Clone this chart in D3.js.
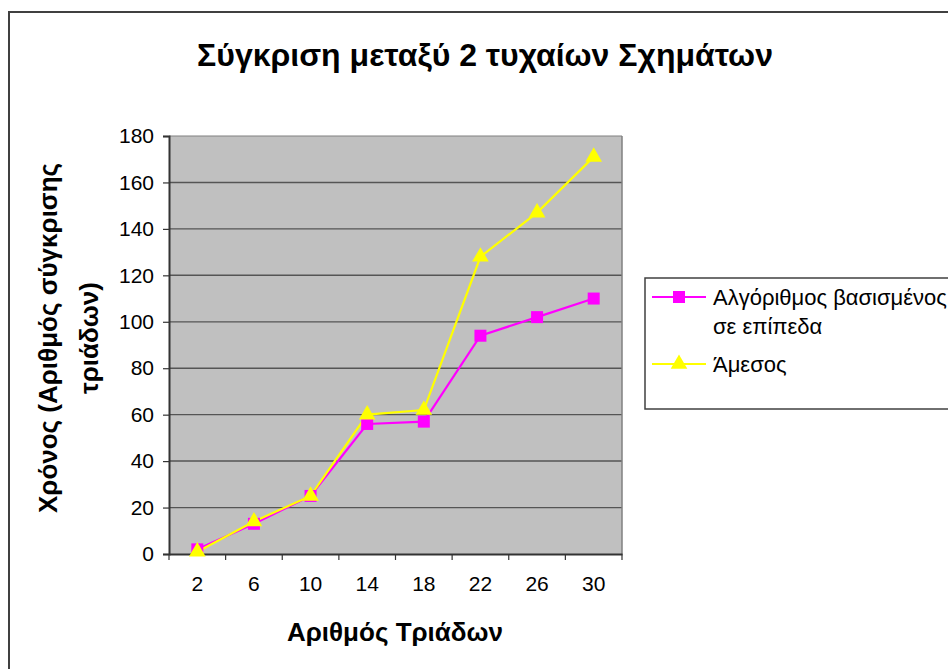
<!DOCTYPE html>
<html><head><meta charset="utf-8">
<script src="https://cdn.jsdelivr.net/npm/d3@7"></script>
<style>body{margin:0;background:#fff}svg{display:block}text{font-family:"Liberation Sans",Arial,sans-serif}</style>
</head><body><svg id="c" width="948" height="669"></svg>
<script>
const categories = ["2","6","10","14","18","22","26","30"];
const seriesNames = ["Αλγόριθμος βασισμένος σε επίπεδα","Άμεσος"];
const levelValues = [2,13,25,56,57,94,102,110];
const directValues = [1,14,25,60,62,128,147,171];
const yTicks = [0,20,40,60,80,100,120,140,160,180];
const colors = ["#ff00ff","#ffff00"];

const svg = d3.select("#c");
const L=169, R=622, T=136, B=554;
// outer frame
svg.append("path").attr("d","M9,669 V12 H948").attr("fill","none").attr("stroke","#404040").attr("stroke-width",2);

const x = d3.scaleBand().domain(categories).range([L,R]);
const y = d3.scaleLinear().domain([0,180]).range([B,T]);

svg.append("rect").attr("x",L).attr("y",T).attr("width",R-L).attr("height",B-T).attr("fill","#c0c0c0");
// gridlines
svg.append("g").selectAll("line").data(yTicks.slice(1)).join("line")
  .attr("x1",L).attr("x2",R).attr("y1",d=>y(d)).attr("y2",d=>y(d))
  .attr("stroke",d=>d===180?"#808080":"#555").attr("stroke-width",d=>d%40===0?1.5:1.2);
// right border
svg.append("line").attr("x1",R).attr("x2",R).attr("y1",T).attr("y2",B).attr("stroke","#808080").attr("stroke-width",1.5);

// axes
const yAxis = svg.append("g").attr("transform",`translate(${L},0)`)
  .call(d3.axisLeft(y).tickValues(yTicks).tickSize(6).tickPadding(9));
const xAxis = svg.append("g").attr("transform",`translate(0,${B})`)
  .call(d3.axisBottom(x).tickSize(0).tickPadding(22));
[yAxis,xAxis].forEach(a=>{a.select(".domain").attr("stroke","#333").attr("stroke-width",2);
  a.selectAll("text").attr("font-size",21).attr("fill","#000").attr("font-family","Liberation Sans, Arial, sans-serif");
  a.selectAll("line").attr("stroke","#333").attr("stroke-width",1.2);});
// x ticks at category boundaries
svg.append("g").selectAll("line").data(categories.concat(["end"])).join("line")
  .attr("x1",(d,i)=>L+i*x.step()).attr("x2",(d,i)=>L+i*x.step())
  .attr("y1",B).attr("y2",B+6).attr("stroke","#333").attr("stroke-width",1.2);

const cx = d=>x(d)+x.bandwidth()/2;
const line = d3.line().x((d,i)=>cx(categories[i])).y(d=>y(d));
const data = [levelValues,directValues];
data.forEach((vals,k)=>{
  svg.append("path").datum(vals).attr("d",line).attr("fill","none").attr("stroke",colors[k]).attr("stroke-width",2.2);
});
// markers
svg.append("g").selectAll("rect").data(levelValues).join("rect")
  .attr("x",(d,i)=>cx(categories[i])-6).attr("y",d=>y(d)-6).attr("width",12).attr("height",12).attr("fill",colors[0]);
const tri = d3.symbol().type(d3.symbolTriangle).size(120);
svg.append("g").selectAll("path").data(directValues).join("path")
  .attr("d",tri).attr("transform",(d,i)=>`translate(${cx(categories[i])},${y(d)})`).attr("fill",colors[1]);

// title
svg.append("text").attr("x",485).attr("y",66).attr("text-anchor","middle").attr("font-size",32).attr("font-weight","bold").text("Σύγκριση μεταξύ 2 τυχαίων Σχημάτων");
svg.append("text").attr("x",395).attr("y",641).attr("text-anchor","middle").attr("font-size",26).attr("font-weight","bold").text("Αριθμός Τριάδων");
const yt = svg.append("text").attr("transform","translate(57,338) rotate(-90)").attr("text-anchor","middle").attr("font-size",26).attr("font-weight","bold");
yt.append("tspan").attr("x",0).attr("dy",0).text("Χρόνος (Αριθμός σύγκρισης");
yt.append("tspan").attr("x",0).attr("dy",41).text("τριάδων)");

// legend
svg.append("rect").attr("x",645).attr("y",278).attr("width",320).attr("height",131).attr("fill","#fff").attr("stroke","#404040").attr("stroke-width",1.5);
const lg = [{y:297,lines:["Αλγόριθμος βασισμένος","σε επίπεδα"]},{y:364,lines:["Άμεσος"]}];
lg.forEach((e,k)=>{
  svg.append("line").attr("x1",652).attr("x2",706).attr("y1",e.y).attr("y2",e.y).attr("stroke",colors[k]).attr("stroke-width",2);
  if(k===0) svg.append("rect").attr("x",673).attr("y",e.y-6).attr("width",12).attr("height",12).attr("fill",colors[0]);
  else svg.append("path").attr("d",tri).attr("transform",`translate(679,${e.y})`).attr("fill",colors[1]);
  const t = svg.append("text").attr("x",713).attr("y",e.y+8).attr("font-size",22);
  e.lines.forEach((s,j)=>t.append("tspan").attr("x",713).attr("dy",j?29:0).text(s));
});
</script></body></html>
